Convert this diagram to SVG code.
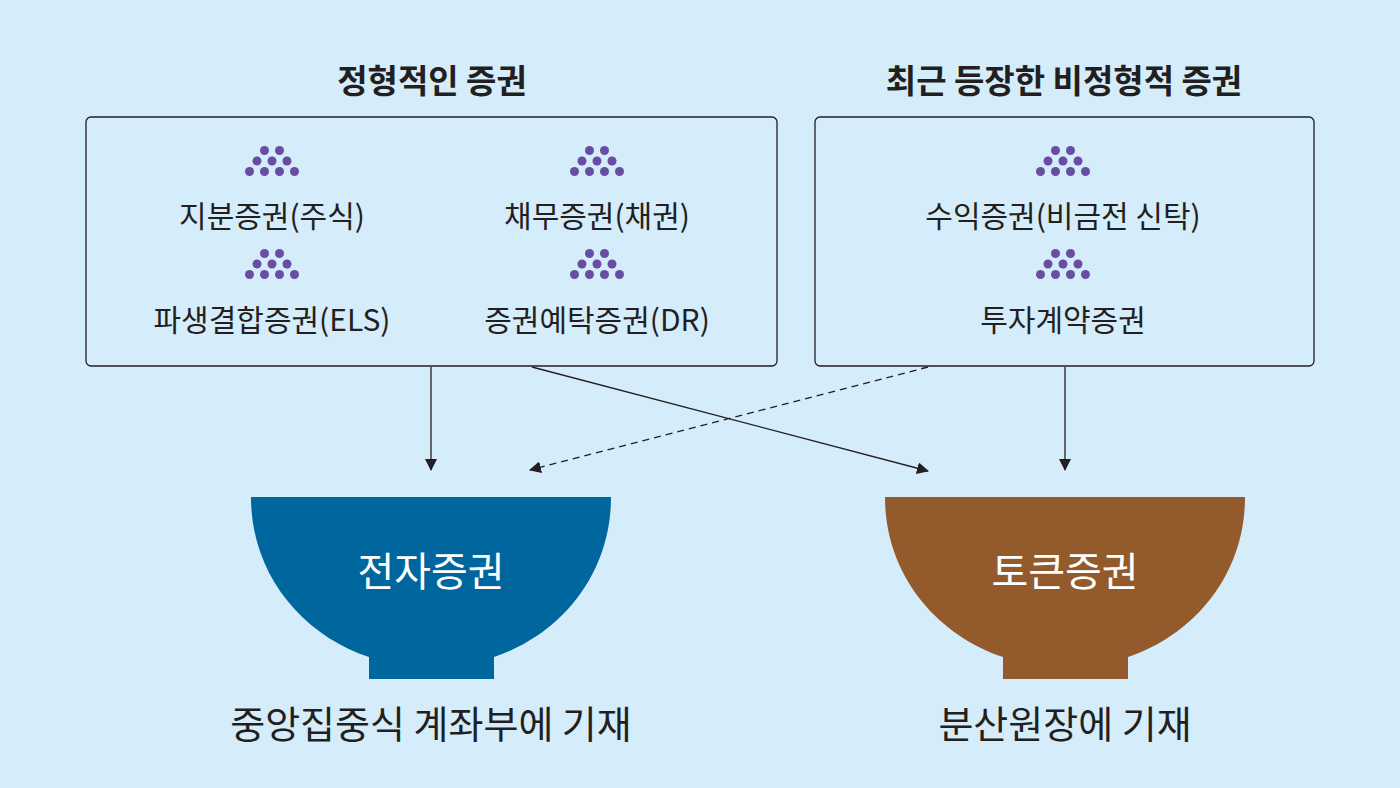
<svg xmlns="http://www.w3.org/2000/svg" width="1400" height="788" viewBox="0 0 1400 788">
<style>
text{font-family:"Noto Sans CJK KR","Noto Sans",sans-serif;fill:#231f20;text-anchor:middle}
.t{font-size:33px;font-weight:700}
.l{font-size:30px}
.b{font-size:40px;fill:#fff}
.c{font-size:38px}
.box{fill:#d5ecfa;stroke:#231f20;stroke-width:1.3}
.dot{fill:#6a4ca3}
.ln{stroke:#231f20;stroke-width:1.3;fill:none}
</style>
<defs>
<marker id="a" markerWidth="12" markerHeight="12" refX="11" refY="6" orient="auto" markerUnits="userSpaceOnUse"><path d="M0,0 L12,6 L0,12 Z" fill="#231f20"/></marker>
<g id="dots" class="dot"><circle cx="-7.5" cy="-10.5" r="4.5"/><circle cx="7.5" cy="-10.5" r="4.5"/><circle cx="-15" cy="0" r="4.5"/><circle cx="0" cy="0" r="4.5"/><circle cx="15" cy="0" r="4.5"/><circle cx="-22.5" cy="10.5" r="4.5"/><circle cx="-7.5" cy="10.5" r="4.5"/><circle cx="7.5" cy="10.5" r="4.5"/><circle cx="22.5" cy="10.5" r="4.5"/></g>
</defs>
<rect width="1400" height="788" fill="#d5ecfa"/>
<g id="left">
<text class="t" x="432" y="93">정형적인 증권</text>
<rect class="box" x="86" y="117" width="691" height="249" rx="5"/>
<use href="#dots" x="272" y="161"/><use href="#dots" x="597" y="161"/>
<use href="#dots" x="272" y="264"/><use href="#dots" x="597" y="264"/>
<text class="l" x="272" y="227">지분증권(주식)</text>
<text class="l" x="597" y="227">채무증권(채권)</text>
<text class="l" x="272" y="331">파생결합증권(ELS)</text>
<text class="l" x="597" y="331">증권예탁증권(DR)</text>
</g>
<g id="right">
<text class="t" x="1064" y="93">최근 등장한 비정형적 증권</text>
<rect class="box" x="815" y="117" width="499" height="249" rx="5"/>
<use href="#dots" x="1063" y="161"/><use href="#dots" x="1063" y="264"/>
<text class="l" x="1063" y="227">수익증권(비금전 신탁)</text>
<text class="l" x="1063" y="331">투자계약증권</text>
</g>
<g id="connectors">
<line class="ln" x1="431" y1="367" x2="431" y2="470" marker-end="url(#a)"/>
<line class="ln" x1="532" y1="367" x2="928" y2="471" marker-end="url(#a)"/>
<line class="ln" x1="928" y1="367" x2="530" y2="470" stroke-dasharray="7,5" marker-end="url(#a)"/>
<line class="ln" x1="1065" y1="367" x2="1065" y2="470" marker-end="url(#a)"/>
</g>
<g id="bowl1">
<path d="M251,497 H611 C611,575 560,635 494,657 V679 H369 V657 C303,635 251,575 251,497 Z" fill="#00669e"/>
<text class="b" x="431" y="586">전자증권</text>
<text class="c" x="431" y="738">중앙집중식 계좌부에 기재</text>
</g>
<g id="bowl2">
<path d="M885,497 H1245 C1245,575 1194,635 1128,657 V679 H1003 V657 C937,635 885,575 885,497 Z" fill="#935b2b"/>
<text class="b" x="1065" y="586">토큰증권</text>
<text class="c" x="1065" y="738">분산원장에 기재</text>
</g>
</svg>
